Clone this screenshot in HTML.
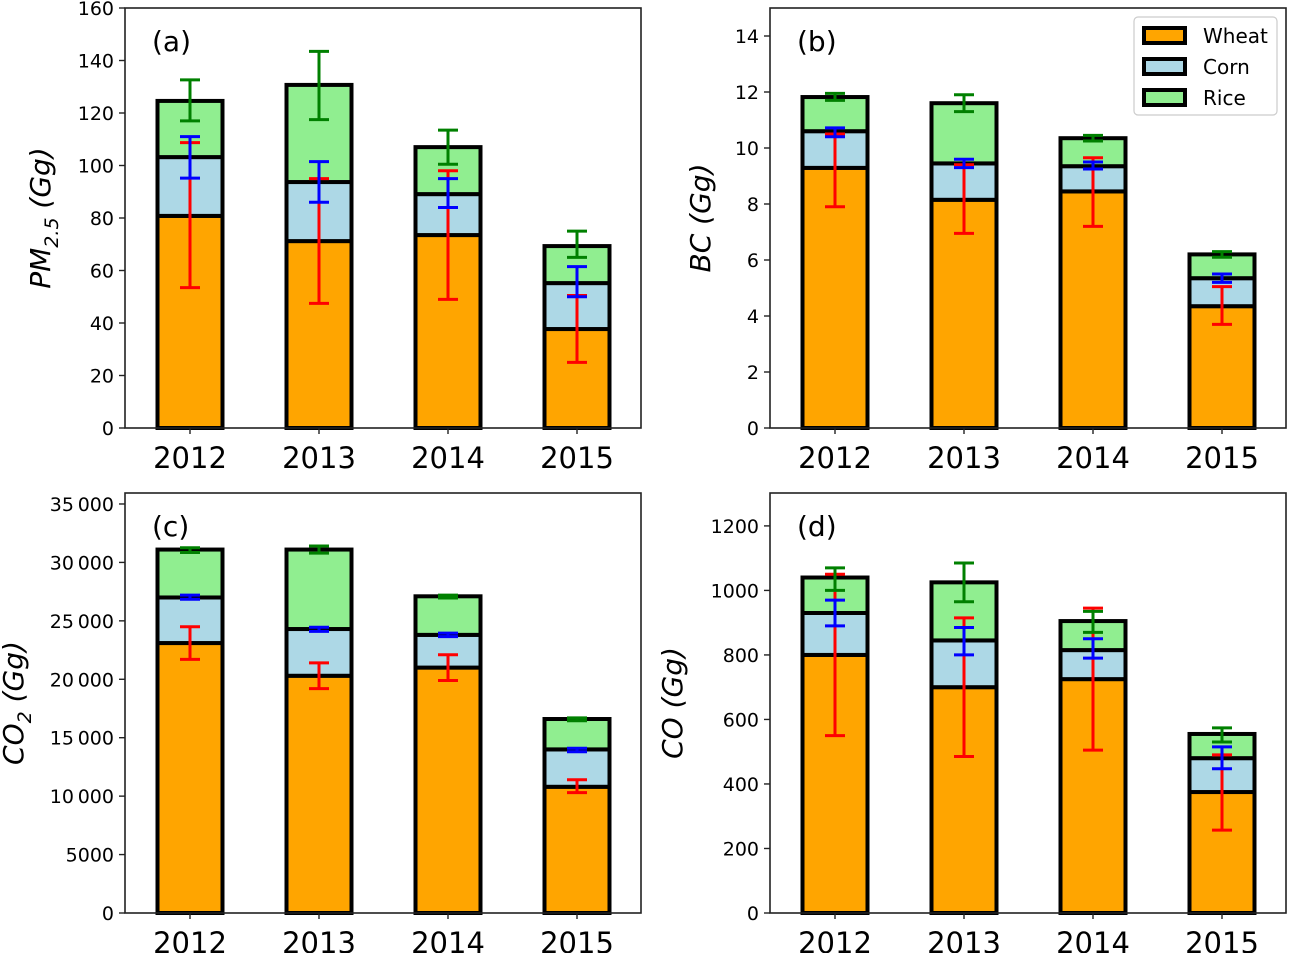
<!DOCTYPE html>
<html><head><meta charset="utf-8"><style>
html,body{margin:0;padding:0;background:#fff;}
svg text{font-family:"DejaVu Sans","Liberation Sans",sans-serif;}
</style></head><body>
<svg id="fig" width="1289" height="953" xmlns="http://www.w3.org/2000/svg"></svg>
<script>
const years = ["2012","2013","2014","2015"];
// Panel a: PM2.5
const pmWheat = [80.8, 71.2, 73.5, 37.7];
const pmCorn  = [22.4, 22.5, 15.6, 17.5];
const pmRice  = [21.4, 37.0, 17.9, 14.1];
const pmWheatErr = [[53.5,108.7],[47.5,95],[49,98],[25,50.5]];
const pmCornErr  = [[95.2,111],[86,101.5],[84,95],[50,61.5]];
const pmRiceErr  = [[117,132.6],[117.5,143.5],[100.5,113.5],[65,75]];
const pmTicks = [0,20,40,60,80,100,120,140,160];
// Panel b: BC
const bcWheat = [9.29, 8.15, 8.45, 4.35];
const bcCorn  = [1.31, 1.30, 0.90, 1.00];
const bcRice  = [1.22, 2.15, 1.00, 0.85];
const bcWheatErr = [[7.9,10.5],[6.95,9.4],[7.2,9.65],[3.7,5.05]];
const bcCornErr  = [[10.4,10.72],[9.3,9.6],[9.25,9.5],[5.2,5.5]];
const bcRiceErr  = [[11.7,11.95],[11.3,11.9],[10.25,10.45],[6.1,6.3]];
const bcTicks = [0,2,4,6,8,10,12,14];
// Panel c: CO2
const co2Wheat = [23100, 20300, 21000, 10800];
const co2Corn  = [3900, 4000, 2800, 3200];
const co2Rice  = [4100, 6800, 3300, 2600];
const co2WheatErr = [[21700,24500],[19200,21400],[19900,22100],[10300,11400]];
const co2CornErr  = [[26850,27200],[24100,24450],[23650,23950],[13800,14100]];
const co2RiceErr  = [[30850,31250],[30800,31400],[26950,27200],[16450,16700]];
const co2Ticks = [0,5000,10000,15000,20000,25000,30000,35000];
const co2TickLabels = ["0","5000","10\u2009000","15\u2009000","20\u2009000","25\u2009000","30\u2009000","35\u2009000"];
// Panel d: CO
const coWheat = [800, 700, 725, 375];
const coCorn  = [130, 145, 90, 105];
const coRice  = [110, 180, 90, 75];
const coWheatErr = [[550,1050],[485,915],[505,945],[257,490]];
const coCornErr  = [[890,970],[800,885],[790,850],[447,515]];
const coRiceErr  = [[1000,1070],[965,1085],[870,935],[530,574]];
const coTicks = [0,200,400,600,800,1000,1200];

const NS="http://www.w3.org/2000/svg";
const svg=document.getElementById('fig');
function mk(tag,attrs,parent){const e=document.createElementNS(NS,tag);for(const k in attrs)e.setAttribute(k,attrs[k]);(parent||svg).appendChild(e);return e;}

function panel(o){
  const g=mk('g',{});
  
  
  const L=o.x0,R=o.x0+516,T=o.y0,B=o.y0+420;
  const ys=v=>B-(v/o.ymax)*420;
  const step=129, bw=65;
  const xs=i=>L+65+i*step;
  const layers=[[o.w,'#ffa500',o.we,'red'],[o.c,'#add8e6',o.ce,'blue'],[o.r,'#90ee90',o.re,'green']];
  const bottoms=[0,0,0,0];
  layers.forEach((ly,li)=>{
    ly[0].forEach((v,i)=>{
      const y1=ys(bottoms[i]+v),y0=ys(bottoms[i]);
      const r=mk('rect',{x:xs(i)-bw/2,y:y1,width:bw,height:y0-y1,fill:ly[1],stroke:'#000','stroke-width':4},g);
      
      
      bottoms[i]+=v;
    });
  });
  layers.forEach((ly,li)=>{
    ly[2].forEach((e,i)=>{
      const eg=mk('g',{stroke:ly[3],'stroke-width':3},g);
      
      
      const x=xs(i),a=ys(e[0]),b=ys(e[1]);
      mk('line',{x1:x,x2:x,y1:a,y2:b},eg);
      mk('line',{x1:x-10,x2:x+10,y1:a,y2:a},eg);
      mk('line',{x1:x-10,x2:x+10,y1:b,y2:b},eg);
    });
  });
  const ax=mk('rect',{x:L,y:T,width:516,height:420,fill:'none',stroke:'#222','stroke-width':1.6},g);
  
  
  o.ticks.forEach((t,k)=>{
    const y=ys(t);
    mk('line',{x1:L-6,x2:L,y1:y,y2:y,stroke:'#222','stroke-width':1.4},g);
    const tx=mk('text',{x:L-11,y:y+7,'text-anchor':'end','font-size':19,fill:'#000'},g);
    tx.textContent=o.labels?o.labels[k]:String(t);
    
    
  });
  years.forEach((yr,i)=>{
    mk('line',{x1:xs(i),x2:xs(i),y1:B,y2:B+6,stroke:'#222','stroke-width':1.4},g);
    const tx=mk('text',{x:xs(i),y:B+40,'text-anchor':'middle','font-size':29,fill:'#000'},g);
    tx.textContent=yr;
    
    
  });
  const pl=mk('text',{x:L+27,y:T+43,'font-size':28,fill:'#000'},g);
  pl.textContent=o.tag;
  
  
  const yl=mk('text',{transform:`translate(${o.lx},${T+210}) rotate(-90)`,'text-anchor':'middle','font-size':28,'font-style':'italic',fill:'#000'},g);
  yl.innerHTML=o.ylab;
  
  
}
panel({name:'panel-pm25',x0:125,y0:8,ymax:160,w:pmWheat,c:pmCorn,r:pmRice,we:pmWheatErr,ce:pmCornErr,re:pmRiceErr,ticks:pmTicks,tag:'(a)',lx:50,
  ylab:'PM<tspan font-size="19" dy="8">2.5</tspan><tspan dy="-8"> (Gg)</tspan>'});
panel({name:'panel-bc',x0:770,y0:8,ymax:15,w:bcWheat,c:bcCorn,r:bcRice,we:bcWheatErr,ce:bcCornErr,re:bcRiceErr,ticks:bcTicks,tag:'(b)',lx:710,ylab:'BC (Gg)'});
panel({name:'panel-co2',x0:125,y0:493,ymax:35940,w:co2Wheat,c:co2Corn,r:co2Rice,we:co2WheatErr,ce:co2CornErr,re:co2RiceErr,ticks:co2Ticks,labels:co2TickLabels,tag:'(c)',lx:23,
  ylab:'CO<tspan font-size="19" dy="8">2</tspan><tspan dy="-8"> (Gg)</tspan>'});
panel({name:'panel-co',x0:770,y0:493,ymax:1302,w:coWheat,c:coCorn,r:coRice,we:coWheatErr,ce:coCornErr,re:coRiceErr,ticks:coTicks,tag:'(d)',lx:682,ylab:'CO (Gg)'});

// legend
const lg=mk('g',{});


mk('rect',{x:1134,y:17,width:143,height:98,rx:4,fill:'#fff',stroke:'#ccc','stroke-width':1.2},lg);
[['Wheat','#ffa500'],['Corn','#add8e6'],['Rice','#90ee90']].forEach((e,k)=>{
  const y=28+k*31;
  const en=mk('g',{},lg);
  
  
  mk('rect',{x:1144,y:y,width:41,height:15,fill:e[1],stroke:'#000','stroke-width':4},en);
  const t=mk('text',{x:1203,y:y+15,'font-size':20,fill:'#000'},en);
  t.textContent=e[0];
});
</script>
</body></html>
